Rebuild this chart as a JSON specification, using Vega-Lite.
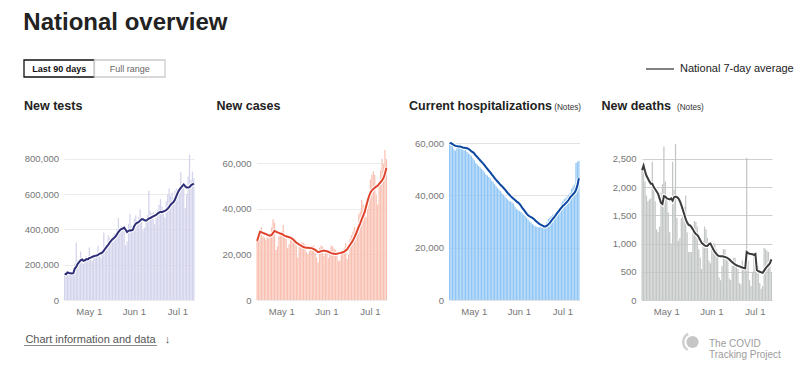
{
  "$schema": "https://vega.github.io/schema/vega-lite/v6.json",
  "padding": {"left": 23, "top": 11, "right": 5, "bottom": 5},
  "background": "white",
  "title": {"text": "National overview", "fontSize": 24, "offset": 19},
  "datasets": {
    "covid": [
      {"date":"2020-04-14","tests":148000,"tests7":150000,"cases":26800,"cases7":26000,"hosp":60000,"hosp7":60000,"deaths":2350,"deaths7":2300},
      {"date":"2020-04-15","tests":142000,"tests7":146000,"cases":30500,"cases7":28000,"hosp":59600,"hosp7":59900,"deaths":2480,"deaths7":2380},
      {"date":"2020-04-16","tests":162000,"tests7":156000,"cases":31000,"cases7":30000,"hosp":59000,"hosp7":59600,"deaths":2100,"deaths7":2280},
      {"date":"2020-04-17","tests":150000,"tests7":153000,"cases":32000,"cases7":29800,"hosp":57600,"hosp7":59200,"deaths":1850,"deaths7":2200},
      {"date":"2020-04-18","tests":158000,"tests7":152000,"cases":28000,"cases7":29500,"hosp":57000,"hosp7":58900,"deaths":1750,"deaths7":2150},
      {"date":"2020-04-19","tests":146000,"tests7":150000,"cases":27500,"cases7":29200,"hosp":58000,"hosp7":58800,"deaths":1780,"deaths7":2100},
      {"date":"2020-04-20","tests":152000,"tests7":152000,"cases":26500,"cases7":29000,"hosp":58200,"hosp7":58700,"deaths":1800,"deaths7":2060},
      {"date":"2020-04-21","tests":205000,"tests7":178000,"cases":28000,"cases7":28600,"hosp":59400,"hosp7":58700,"deaths":2450,"deaths7":2060},
      {"date":"2020-04-22","tests":326000,"tests7":188000,"cases":27000,"cases7":28400,"hosp":57800,"hosp7":58500,"deaths":1950,"deaths7":2000},
      {"date":"2020-04-23","tests":225000,"tests7":205000,"cases":29000,"cases7":28300,"hosp":57400,"hosp7":58300,"deaths":1750,"deaths7":1960},
      {"date":"2020-04-24","tests":218000,"tests7":215000,"cases":32000,"cases7":28600,"hosp":57200,"hosp7":58200,"deaths":1250,"deaths7":1920},
      {"date":"2020-04-25","tests":275000,"tests7":225000,"cases":35500,"cases7":29500,"hosp":57400,"hosp7":58100,"deaths":1200,"deaths7":1880},
      {"date":"2020-04-26","tests":238000,"tests7":230000,"cases":34000,"cases7":30400,"hosp":56600,"hosp7":58000,"deaths":1300,"deaths7":1800},
      {"date":"2020-04-27","tests":205000,"tests7":222000,"cases":22000,"cases7":30000,"hosp":56000,"hosp7":57800,"deaths":1900,"deaths7":1720},
      {"date":"2020-04-28","tests":232000,"tests7":225000,"cases":23500,"cases7":29700,"hosp":55600,"hosp7":57300,"deaths":2050,"deaths7":1700},
      {"date":"2020-04-29","tests":248000,"tests7":232000,"cases":28000,"cases7":29500,"hosp":55000,"hosp7":56800,"deaths":2720,"deaths7":1840},
      {"date":"2020-04-30","tests":236000,"tests7":230000,"cases":29700,"cases7":29200,"hosp":54200,"hosp7":56500,"deaths":2100,"deaths7":1830},
      {"date":"2020-05-01","tests":298000,"tests7":238000,"cases":30000,"cases7":29000,"hosp":53400,"hosp7":56000,"deaths":1800,"deaths7":1800},
      {"date":"2020-05-02","tests":232000,"tests7":240000,"cases":33000,"cases7":28600,"hosp":52400,"hosp7":55200,"deaths":1550,"deaths7":1790},
      {"date":"2020-05-03","tests":222000,"tests7":245000,"cases":29000,"cases7":28200,"hosp":51800,"hosp7":54700,"deaths":1200,"deaths7":1780},
      {"date":"2020-05-04","tests":262000,"tests7":248000,"cases":26800,"cases7":28000,"hosp":51200,"hosp7":54000,"deaths":1000,"deaths7":1800},
      {"date":"2020-05-05","tests":248000,"tests7":250000,"cases":23000,"cases7":27800,"hosp":50600,"hosp7":53400,"deaths":2450,"deaths7":1760},
      {"date":"2020-05-06","tests":258000,"tests7":252000,"cases":24500,"cases7":27600,"hosp":50000,"hosp7":52800,"deaths":1950,"deaths7":1820},
      {"date":"2020-05-07","tests":307000,"tests7":256000,"cases":27000,"cases7":27400,"hosp":49600,"hosp7":52200,"deaths":2765,"deaths7":1830},
      {"date":"2020-05-08","tests":262000,"tests7":262000,"cases":27500,"cases7":27000,"hosp":48800,"hosp7":51500,"deaths":1450,"deaths7":1820},
      {"date":"2020-05-09","tests":240000,"tests7":265000,"cases":26500,"cases7":26500,"hosp":48000,"hosp7":50800,"deaths":1050,"deaths7":1800},
      {"date":"2020-05-10","tests":285000,"tests7":270000,"cases":27000,"cases7":25800,"hosp":47600,"hosp7":50100,"deaths":1100,"deaths7":1750},
      {"date":"2020-05-11","tests":383000,"tests7":280000,"cases":24000,"cases7":25200,"hosp":47000,"hosp7":49400,"deaths":1450,"deaths7":1680},
      {"date":"2020-05-12","tests":305000,"tests7":292000,"cases":18700,"cases7":24800,"hosp":46400,"hosp7":48800,"deaths":1500,"deaths7":1600},
      {"date":"2020-05-13","tests":292000,"tests7":302000,"cases":24000,"cases7":24300,"hosp":45600,"hosp7":48000,"deaths":1650,"deaths7":1520},
      {"date":"2020-05-14","tests":365000,"tests7":312000,"cases":25000,"cases7":24000,"hosp":45000,"hosp7":47300,"deaths":1850,"deaths7":1430},
      {"date":"2020-05-15","tests":350000,"tests7":325000,"cases":25500,"cases7":23600,"hosp":44200,"hosp7":46600,"deaths":1200,"deaths7":1370},
      {"date":"2020-05-16","tests":330000,"tests7":335000,"cases":25000,"cases7":23300,"hosp":43600,"hosp7":45900,"deaths":850,"deaths7":1330},
      {"date":"2020-05-17","tests":362000,"tests7":345000,"cases":24500,"cases7":23100,"hosp":42800,"hosp7":45300,"deaths":850,"deaths7":1320},
      {"date":"2020-05-18","tests":375000,"tests7":352000,"cases":21000,"cases7":23000,"hosp":42200,"hosp7":44700,"deaths":850,"deaths7":1290},
      {"date":"2020-05-19","tests":380000,"tests7":360000,"cases":20000,"cases7":23000,"hosp":41600,"hosp7":44000,"deaths":1200,"deaths7":1250},
      {"date":"2020-05-20","tests":400000,"tests7":372000,"cases":21500,"cases7":22900,"hosp":40800,"hosp7":43500,"deaths":1400,"deaths7":1200},
      {"date":"2020-05-21","tests":465000,"tests7":385000,"cases":24000,"cases7":22800,"hosp":40200,"hosp7":42900,"deaths":1380,"deaths7":1170},
      {"date":"2020-05-22","tests":410000,"tests7":395000,"cases":23500,"cases7":22700,"hosp":39600,"hosp7":42300,"deaths":1300,"deaths7":1150},
      {"date":"2020-05-23","tests":420000,"tests7":402000,"cases":24000,"cases7":22400,"hosp":39000,"hosp7":41600,"deaths":900,"deaths7":1110},
      {"date":"2020-05-24","tests":395000,"tests7":405000,"cases":22500,"cases7":22000,"hosp":38400,"hosp7":40900,"deaths":750,"deaths7":1060},
      {"date":"2020-05-25","tests":405000,"tests7":410000,"cases":18700,"cases7":21500,"hosp":37800,"hosp7":40300,"deaths":550,"deaths7":1010},
      {"date":"2020-05-26","tests":311000,"tests7":398000,"cases":16500,"cases7":21000,"hosp":37600,"hosp7":39700,"deaths":1050,"deaths7":990},
      {"date":"2020-05-27","tests":330000,"tests7":385000,"cases":23000,"cases7":21200,"hosp":37300,"hosp7":39200,"deaths":1300,"deaths7":965},
      {"date":"2020-05-28","tests":430000,"tests7":392000,"cases":24000,"cases7":21400,"hosp":36800,"hosp7":38700,"deaths":1250,"deaths7":955},
      {"date":"2020-05-29","tests":487000,"tests7":395000,"cases":23500,"cases7":21600,"hosp":35600,"hosp7":38200,"deaths":1100,"deaths7":960},
      {"date":"2020-05-30","tests":420000,"tests7":394000,"cases":19500,"cases7":21700,"hosp":34800,"hosp7":37700,"deaths":700,"deaths7":990},
      {"date":"2020-05-31","tests":405000,"tests7":398000,"cases":22000,"cases7":21600,"hosp":34400,"hosp7":37300,"deaths":650,"deaths7":1000},
      {"date":"2020-06-01","tests":462000,"tests7":420000,"cases":20500,"cases7":21400,"hosp":34000,"hosp7":36800,"deaths":900,"deaths7":950},
      {"date":"2020-06-02","tests":480000,"tests7":432000,"cases":18500,"cases7":21200,"hosp":33600,"hosp7":36100,"deaths":1000,"deaths7":900},
      {"date":"2020-06-03","tests":440000,"tests7":438000,"cases":21500,"cases7":20900,"hosp":33200,"hosp7":35200,"deaths":1000,"deaths7":850},
      {"date":"2020-06-04","tests":470000,"tests7":442000,"cases":24000,"cases7":20600,"hosp":32600,"hosp7":34500,"deaths":900,"deaths7":820},
      {"date":"2020-06-05","tests":515000,"tests7":450000,"cases":23500,"cases7":20400,"hosp":32000,"hosp7":33800,"deaths":800,"deaths7":790},
      {"date":"2020-06-06","tests":470000,"tests7":458000,"cases":22500,"cases7":20300,"hosp":31400,"hosp7":33000,"deaths":400,"deaths7":780},
      {"date":"2020-06-07","tests":395000,"tests7":458000,"cases":22000,"cases7":20200,"hosp":30800,"hosp7":32400,"deaths":350,"deaths7":775},
      {"date":"2020-06-08","tests":410000,"tests7":452000,"cases":20500,"cases7":20300,"hosp":30000,"hosp7":32000,"deaths":600,"deaths7":775},
      {"date":"2020-06-09","tests":445000,"tests7":450000,"cases":17000,"cases7":20500,"hosp":29600,"hosp7":31700,"deaths":900,"deaths7":770},
      {"date":"2020-06-10","tests":480000,"tests7":455000,"cases":17500,"cases7":20600,"hosp":29000,"hosp7":31400,"deaths":900,"deaths7":760},
      {"date":"2020-06-11","tests":620000,"tests7":462000,"cases":20000,"cases7":20800,"hosp":28600,"hosp7":31000,"deaths":750,"deaths7":755},
      {"date":"2020-06-12","tests":505000,"tests7":465000,"cases":22000,"cases7":21000,"hosp":28200,"hosp7":30400,"deaths":700,"deaths7":740},
      {"date":"2020-06-13","tests":490000,"tests7":470000,"cases":23000,"cases7":21300,"hosp":28000,"hosp7":29900,"deaths":380,"deaths7":720},
      {"date":"2020-06-14","tests":500000,"tests7":474000,"cases":25000,"cases7":21800,"hosp":27800,"hosp7":29400,"deaths":350,"deaths7":695},
      {"date":"2020-06-15","tests":430000,"tests7":478000,"cases":18000,"cases7":22300,"hosp":27800,"hosp7":29000,"deaths":600,"deaths7":670},
      {"date":"2020-06-16","tests":465000,"tests7":482000,"cases":20000,"cases7":23300,"hosp":27900,"hosp7":28700,"deaths":750,"deaths7":650},
      {"date":"2020-06-17","tests":510000,"tests7":490000,"cases":27000,"cases7":24300,"hosp":28000,"hosp7":28400,"deaths":750,"deaths7":630},
      {"date":"2020-06-18","tests":540000,"tests7":495000,"cases":28500,"cases7":25200,"hosp":28400,"hosp7":28100,"deaths":650,"deaths7":615},
      {"date":"2020-06-19","tests":572000,"tests7":500000,"cases":30000,"cases7":26300,"hosp":28800,"hosp7":28100,"deaths":550,"deaths7":605},
      {"date":"2020-06-20","tests":530000,"tests7":498000,"cases":32000,"cases7":27500,"hosp":29800,"hosp7":28400,"deaths":300,"deaths7":595},
      {"date":"2020-06-21","tests":500000,"tests7":502000,"cases":31000,"cases7":29000,"hosp":31000,"hosp7":28900,"deaths":280,"deaths7":585},
      {"date":"2020-06-22","tests":468000,"tests7":505000,"cases":29000,"cases7":30600,"hosp":31500,"hosp7":29500,"deaths":700,"deaths7":575},
      {"date":"2020-06-23","tests":560000,"tests7":510000,"cases":37700,"cases7":32200,"hosp":32000,"hosp7":30200,"deaths":600,"deaths7":565},
      {"date":"2020-06-24","tests":600000,"tests7":518000,"cases":39000,"cases7":33700,"hosp":32600,"hosp7":31000,"deaths":550,"deaths7":560},
      {"date":"2020-06-25","tests":633000,"tests7":528000,"cases":44000,"cases7":35400,"hosp":32900,"hosp7":31600,"deaths":2520,"deaths7":850},
      {"date":"2020-06-26","tests":590000,"tests7":540000,"cases":42000,"cases7":37000,"hosp":33200,"hosp7":32400,"deaths":700,"deaths7":830},
      {"date":"2020-06-27","tests":610000,"tests7":548000,"cases":38000,"cases7":38600,"hosp":33400,"hosp7":33200,"deaths":350,"deaths7":820},
      {"date":"2020-06-28","tests":580000,"tests7":555000,"cases":36500,"cases7":41000,"hosp":33800,"hosp7":33900,"deaths":250,"deaths7":815},
      {"date":"2020-06-29","tests":620000,"tests7":570000,"cases":40000,"cases7":43400,"hosp":35500,"hosp7":34600,"deaths":500,"deaths7":810},
      {"date":"2020-06-30","tests":632000,"tests7":590000,"cases":47000,"cases7":45500,"hosp":37000,"hosp7":35300,"deaths":850,"deaths7":800},
      {"date":"2020-07-01","tests":630000,"tests7":610000,"cases":53000,"cases7":47200,"hosp":37800,"hosp7":36000,"deaths":600,"deaths7":815},
      {"date":"2020-07-02","tests":640000,"tests7":625000,"cases":55000,"cases7":48200,"hosp":38500,"hosp7":36400,"deaths":700,"deaths7":530},
      {"date":"2020-07-03","tests":724000,"tests7":635000,"cases":56500,"cases7":48800,"hosp":39000,"hosp7":37000,"deaths":600,"deaths7":510},
      {"date":"2020-07-04","tests":660000,"tests7":645000,"cases":55000,"cases7":49300,"hosp":39600,"hosp7":37600,"deaths":300,"deaths7":500},
      {"date":"2020-07-05","tests":640000,"tests7":655000,"cases":46500,"cases7":49800,"hosp":40200,"hosp7":38300,"deaths":200,"deaths7":490},
      {"date":"2020-07-06","tests":520000,"tests7":645000,"cases":42000,"cases7":50200,"hosp":41000,"hosp7":39200,"deaths":250,"deaths7":480},
      {"date":"2020-07-07","tests":600000,"tests7":638000,"cases":51600,"cases7":51000,"hosp":42500,"hosp7":39800,"deaths":920,"deaths7":520},
      {"date":"2020-07-08","tests":700000,"tests7":638000,"cases":57000,"cases7":51800,"hosp":43400,"hosp7":40400,"deaths":900,"deaths7":560},
      {"date":"2020-07-09","tests":823000,"tests7":640000,"cases":62000,"cases7":52600,"hosp":44000,"hosp7":41000,"deaths":870,"deaths7":590},
      {"date":"2020-07-10","tests":680000,"tests7":650000,"cases":59700,"cases7":53600,"hosp":52400,"hosp7":42000,"deaths":850,"deaths7":620},
      {"date":"2020-07-11","tests":728000,"tests7":655000,"cases":66000,"cases7":55500,"hosp":52800,"hosp7":43800,"deaths":600,"deaths7":650},
      {"date":"2020-07-12","tests":690000,"tests7":660000,"cases":62000,"cases7":58000,"hosp":53200,"hosp7":46500,"deaths":480,"deaths7":720}
    ]
  },
  "concat": [
    {
      "concat": [
        {
          "width": 141,
          "height": 17,
          "data": {"values": [{"button": "Last 90 days", "state": "selected"}, {"button": "Full range", "state": "unselected"}]},
          "encoding": {"x": {"field": "button", "type": "nominal", "sort": null, "scale": {"paddingInner": 0, "paddingOuter": 0}, "axis": null}},
          "layer": [
            {"mark": {"type": "rect", "fill": "white", "strokeWidth": 1.3}, "encoding": {"stroke": {"field": "state", "type": "nominal", "scale": {"domain": ["selected", "unselected"], "range": ["#111111", "#cccccc"]}, "legend": null}}},
            {"transform": [{"filter": "datum.state == 'selected'"}], "mark": {"type": "text", "fontSize": 9, "fontWeight": "bold", "color": "#111111"}, "encoding": {"text": {"field": "button"}}},
            {"transform": [{"filter": "datum.state != 'selected'"}], "mark": {"type": "text", "fontSize": 9, "color": "#666666"}, "encoding": {"text": {"field": "button"}}},
            {"data": {"values": []}, "mark": {"type": "point"}, "encoding": {"color": {"datum": "National 7-day average", "scale": {"range": ["#111111"]}, "legend": {"orient": "none", "legendX": 621, "legendY": -6, "title": null, "symbolType": "stroke", "symbolSize": 784, "symbolStrokeWidth": 1.5, "symbolStrokeColor": "#111111", "labelFontSize": 11, "labelFont": "Liberation Sans", "labelColor": "#222222", "labelOffset": 5, "padding": 0}}}}
          ]
        },
        {
          "hconcat": [
            {"width": 1, "height": 157, "data": {"values": []}, "mark": {"type": "point"}, "encoding": {}},
            {
              "hconcat": [
                {
                  "width": 130.5, "height": 157,
                  "title": {"text": "New tests", "fontSize": 12.5, "offset": 31},
                  "data": {"name": "covid"},
                  "encoding": {"x": {"field": "date", "type": "ordinal", "title": null, "scale": {"paddingInner": 0.15, "paddingOuter": 0}, "axis": {"values": ["2020-05-01", "2020-06-01", "2020-07-01"], "labelExpr": "datum.value == '2020-05-01' ? 'May 1' : datum.value == '2020-06-01' ? 'Jun 1' : 'Jul 1'"}}},
                  "layer": [
                    {"mark": {"type": "bar", "color": "#d3d3ec"}, "encoding": {"y": {"field": "tests", "type": "quantitative", "title": null, "scale": {"domain": [0, 890000], "nice": false}, "axis": {"values": [0, 200000, 400000, 600000, 800000], "format": ",.0f", "labelOverlap": false, "gridColor": "#ebebeb"}}}},
                    {"mark": {"type": "line", "color": "white", "strokeWidth": 4}, "encoding": {"y": {"field": "tests7", "type": "quantitative", "title": null, "axis": {"values": [0, 200000, 400000, 600000, 800000], "format": ",.0f", "labelOverlap": false, "gridColor": "#ebebeb"}}}},
                    {"mark": {"type": "line", "color": "#2e2e78", "strokeWidth": 2}, "encoding": {"y": {"field": "tests7", "type": "quantitative", "title": null, "axis": {"values": [0, 200000, 400000, 600000, 800000], "format": ",.0f", "labelOverlap": false, "gridColor": "#ebebeb"}}}}
                  ]
                },
                {
                  "width": 130.5, "height": 157,
                  "title": {"text": "New cases", "fontSize": 12.5, "offset": 31},
                  "data": {"name": "covid"},
                  "encoding": {"x": {"field": "date", "type": "ordinal", "title": null, "scale": {"paddingInner": 0.15, "paddingOuter": 0}, "axis": {"values": ["2020-05-01", "2020-06-01", "2020-07-01"], "labelExpr": "datum.value == '2020-05-01' ? 'May 1' : datum.value == '2020-06-01' ? 'Jun 1' : 'Jul 1'"}}},
                  "layer": [
                    {"mark": {"type": "bar", "color": "#f9c0b2"}, "encoding": {"y": {"field": "cases", "type": "quantitative", "title": null, "scale": {"domain": [0, 69000], "nice": false}, "axis": {"values": [0, 20000, 40000, 60000], "format": ",.0f", "labelOverlap": false, "gridColor": "#ebebeb"}}}},
                    {"mark": {"type": "line", "color": "white", "strokeWidth": 4}, "encoding": {"y": {"field": "cases7", "type": "quantitative", "title": null, "axis": {"values": [0, 20000, 40000, 60000], "format": ",.0f", "labelOverlap": false, "gridColor": "#ebebeb"}}}},
                    {"mark": {"type": "line", "color": "#e0432b", "strokeWidth": 2}, "encoding": {"y": {"field": "cases7", "type": "quantitative", "title": null, "axis": {"values": [0, 20000, 40000, 60000], "format": ",.0f", "labelOverlap": false, "gridColor": "#ebebeb"}}}}
                  ]
                },
                {
                  "width": 130.5, "height": 157,
                  "title": {"text": "Current hospitalizations", "fontSize": 12.5, "offset": -9},
                  "data": {"name": "covid"},
                  "encoding": {"x": {"field": "date", "type": "ordinal", "title": null, "scale": {"paddingInner": 0.15, "paddingOuter": 0}, "axis": {"values": ["2020-05-01", "2020-06-01", "2020-07-01"], "labelExpr": "datum.value == '2020-05-01' ? 'May 1' : datum.value == '2020-06-01' ? 'Jun 1' : 'Jul 1'"}}},
                  "layer": [
                    {"mark": {"type": "bar", "color": "#90c6f5"}, "encoding": {"y": {"field": "hosp", "type": "quantitative", "title": null, "scale": {"domain": [0, 60000], "nice": false}, "axis": {"values": [0, 20000, 40000, 60000], "format": ",.0f", "labelOverlap": false, "gridColor": "#e2e2e2"}}}},
                    {"mark": {"type": "line", "color": "white", "strokeWidth": 4}, "encoding": {"y": {"field": "hosp7", "type": "quantitative", "title": null, "axis": {"values": [0, 20000, 40000, 60000], "format": ",.0f", "labelOverlap": false, "gridColor": "#e2e2e2"}}}},
                    {"mark": {"type": "line", "color": "#0b47a1", "strokeWidth": 2}, "encoding": {"y": {"field": "hosp7", "type": "quantitative", "title": null, "axis": {"values": [0, 20000, 40000, 60000], "format": ",.0f", "labelOverlap": false, "gridColor": "#e2e2e2"}}}},
                    {"data": {"values": [{"note": "(Notes)"}]}, "mark": {"type": "text", "fontSize": 8.2, "color": "#333333", "align": "left", "baseline": "alphabetic", "clip": false}, "encoding": {"x": {"datum": "2020-06-25", "type": "ordinal"}, "y": {"datum": 72600, "type": "quantitative", "axis": {"values": [0, 20000, 40000, 60000], "format": ",.0f", "labelOverlap": false, "gridColor": "#e2e2e2"}}, "text": {"field": "note"}}}
                  ]
                },
                {
                  "width": 130.5, "height": 157,
                  "title": {"text": "New deaths", "fontSize": 12.5, "offset": -9},
                  "data": {"name": "covid"},
                  "encoding": {"x": {"field": "date", "type": "ordinal", "title": null, "scale": {"paddingInner": 0.15, "paddingOuter": 0}, "axis": {"values": ["2020-05-01", "2020-06-01", "2020-07-01"], "labelExpr": "datum.value == '2020-05-01' ? 'May 1' : datum.value == '2020-06-01' ? 'Jun 1' : 'Jul 1'"}}},
                  "layer": [
                    {"mark": {"type": "bar", "color": "#c2c6c4"}, "encoding": {"y": {"field": "deaths", "type": "quantitative", "title": null, "scale": {"domain": [0, 2780], "nice": false}, "axis": {"values": [0, 500, 1000, 1500, 2000, 2500], "format": ",.0f", "labelOverlap": false, "gridColor": "#cfcfcf"}}}},
                    {"mark": {"type": "line", "color": "white", "strokeWidth": 4}, "encoding": {"y": {"field": "deaths7", "type": "quantitative", "title": null, "axis": {"values": [0, 500, 1000, 1500, 2000, 2500], "format": ",.0f", "labelOverlap": false, "gridColor": "#cfcfcf"}}}},
                    {"mark": {"type": "line", "color": "#3b3b3b", "strokeWidth": 2}, "encoding": {"y": {"field": "deaths7", "type": "quantitative", "title": null, "axis": {"values": [0, 500, 1000, 1500, 2000, 2500], "format": ",.0f", "labelOverlap": false, "gridColor": "#cfcfcf"}}}},
                    {"data": {"values": [{"note": "(Notes)"}]}, "mark": {"type": "text", "fontSize": 8.2, "color": "#333333", "align": "left", "baseline": "alphabetic", "clip": false}, "encoding": {"x": {"datum": "2020-05-08", "type": "ordinal"}, "y": {"datum": 3364, "type": "quantitative", "axis": {"values": [0, 500, 1000, 1500, 2000, 2500], "format": ",.0f", "labelOverlap": false, "gridColor": "#cfcfcf"}}, "text": {"field": "note"}}}
                  ]
                }
              ],
              "spacing": 61.5,
              "bounds": "flush"
            }
          ],
          "spacing": 39,
          "bounds": "flush"
        }
      ],
      "columns": 1,
      "align": "none",
      "spacing": 21
    },
    {
      "hconcat": [
        {
          "width": 133, "height": 20,
          "data": {"values": [{"label": "Chart information and data", "arrow": "↓"}]},
          "layer": [
            {"mark": {"type": "rule", "color": "#8a8a8a", "strokeWidth": 1}, "encoding": {"y": {"datum": 0.225, "type": "quantitative", "scale": {"domain": [0, 1]}, "axis": null}}},
            {"mark": {"type": "text", "fontSize": 11, "color": "#555555", "baseline": "middle"}, "encoding": {"text": {"field": "label"}}},
            {"mark": {"type": "text", "fontSize": 11, "color": "#555555", "baseline": "middle", "dx": 77}, "encoding": {"text": {"field": "arrow"}}}
          ]
        },
        {
          "width": 24, "height": 24,
          "data": {"values": [{"name": "The COVID\nTracking Project"}]},
          "layer": [
            {"mark": {"type": "arc", "radius": 10.5, "radius2": 8, "theta": 3.7, "theta2": 5.8, "color": "#d0d0d0"}, "encoding": {}},
            {"mark": {"type": "point", "filled": true, "size": 150, "color": "#c6c6c6", "opacity": 1}, "encoding": {}},
            {"mark": {"type": "text", "align": "left", "dx": 16.5, "dy": 2, "fontSize": 10, "lineHeight": 10.5, "lineBreak": "\n", "color": "#9c9c9c", "baseline": "middle"}, "encoding": {"text": {"field": "name"}}}
          ]
        }
      ],
      "spacing": 509.5
    }
  ],
  "columns": 1,
  "align": "none",
  "spacing": 14,
  "config": {
    "view": {"stroke": null},
    "font": "Liberation Sans",
    "axis": {"labelFont": "Liberation Sans", "labelFontSize": 9.5, "labelColor": "#767676", "ticks": false, "domain": false},
    "axisY": {"grid": true, "labelPadding": 5.5, "minExtent": 40, "maxExtent": 40, "zindex": 1},
    "axisX": {"grid": false, "labelPadding": 6, "labelAngle": 0},
    "title": {"anchor": "start", "font": "Liberation Sans", "fontWeight": "bold", "color": "#222222", "baseline": "alphabetic", "frame": "bounds"}
  }
}
